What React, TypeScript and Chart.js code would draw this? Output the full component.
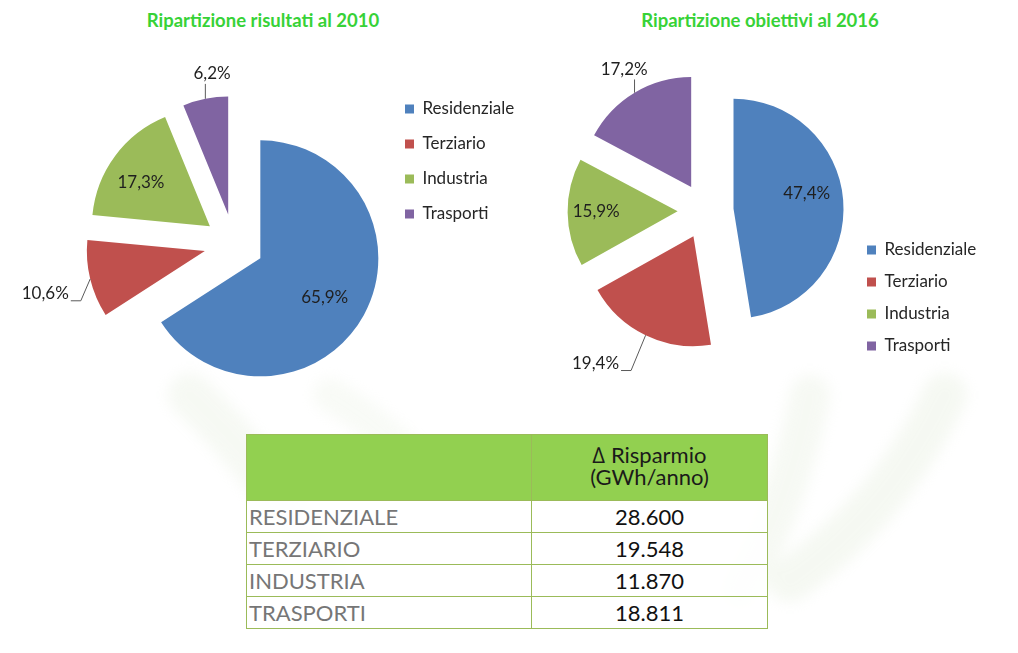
import React, { useEffect, useRef } from 'react';
import { Chart, registerables } from 'chart.js';

Chart.register(...registerables);

// ---------- data ----------
const categories = ['Residenziale', 'Terziario', 'Industria', 'Trasporti'];
const shares2010 = [65.9, 10.6, 17.3, 6.2];
const shares2016 = [47.4, 19.4, 15.9, 17.2];
const title2010 = 'Ripartizione risultati al 2010';
const title2016 = 'Ripartizione obiettivi al 2016';
const tableHeader = ['\u2206 Risparmio', '(GWh/anno)'];
const tableRowLabels = ['RESIDENZIALE', 'TERZIARIO', 'INDUSTRIA', 'TRASPORTI'];
const savingsGWh = [28600, 19548, 11870, 18811];

// ---------- styles / layout ----------
const sliceColors = ['#4F81BD', '#C0504D', '#9BBB59', '#8064A2'];
const labelShift2010 = [2.9, -1.3, -4.4, 4.6];
const labelDist2010 = [0.64, 1.4, 0.69, 1.2];
const labelShift2016 = [-7.4, 11.8, 0.5, 1.3];
const labelDist2016 = [0.68, 1.46, 0.74, 1.23];
const FONT = 'Lato, "Open Sans", sans-serif';

const fmtPct = (v: number) => v.toFixed(1).replace('.', ',') + '%';
const fmtInt = (n: number) => String(n).replace(/\B(?=(\d{3})+(?!\d))/g, '.');

const makePiePlugin = (explode: number, shifts: number[], dists: number[]) => ({
  id: 'explodedPieLabels',
  afterDatasetUpdate(chart: any) {
    const meta = chart.getDatasetMeta(0);
    meta.data.forEach((el: any) => {
      const mid = (el.startAngle + el.endAngle) / 2;
      el.x += Math.cos(mid) * explode;
      el.y += Math.sin(mid) * explode;
    });
  },
  afterDatasetsDraw(chart: any) {
    const ctx = chart.ctx;
    const meta = chart.getDatasetMeta(0);
    const data = chart.data.datasets[0].data as number[];
    ctx.save();
    ctx.font = '17px ' + FONT;
    ctx.textAlign = 'center';
    ctx.textBaseline = 'middle';
    meta.data.forEach((el: any, i: number) => {
      const mid = (el.startAngle + el.endAngle) / 2;
      const ang = mid + (shifts[i] * Math.PI) / 180;
      const R = el.outerRadius;
      const k = dists[i];
      const lx = el.x + Math.cos(ang) * R * k;
      const ly = el.y + Math.sin(ang) * R * k;
      const text = fmtPct(data[i]);
      ctx.fillStyle = '#1f1f1f';
      ctx.fillText(text, lx, ly);
      if (k > 1) {
        const ax = el.x + Math.cos(mid) * R;
        const ay = el.y + Math.sin(mid) * R;
        const tw = ctx.measureText(text).width;
        ctx.strokeStyle = '#5a5a5a';
        ctx.lineWidth = 1;
        ctx.beginPath();
        ctx.moveTo(ax, ay);
        if (Math.abs(lx - ax) > Math.abs(ly - ay)) {
          const side = lx < ax ? 1 : -1;
          const tx = lx + side * (tw / 2 + 2);
          const ty = ly + 7;
          ctx.lineTo(tx + side * 10, ty);
          ctx.lineTo(tx, ty);
        } else {
          ctx.lineTo(ax, ly + 10);
        }
        ctx.stroke();
      }
    });
    ctx.restore();
  },
});

type PieProps = {
  left: number;
  width: number;
  height: number;
  values: number[];
  radius: number;
  explode: number;
  padding: { left: number; right: number; top: number; bottom: number };
  legendLeft: number;
  legendGap: number;
  legendAlign: 'start' | 'end';
  shifts: number[];
  dists: number[];
};

function PieChart(p: PieProps) {
  const ref = useRef<HTMLCanvasElement | null>(null);
  useEffect(() => {
    if (!ref.current) return;
    const chart = new Chart(ref.current, {
      type: 'pie',
      data: {
        labels: categories,
        datasets: [
          {
            data: p.values,
            backgroundColor: sliceColors,
            borderWidth: 0,
            radius: p.radius,
            hoverOffset: 0,
            clip: false,
          } as any,
        ],
      },
      options: {
        responsive: false,
        animation: false,
        events: [],
        layout: { padding: { ...p.padding } },
        plugins: {
          legend: {
            position: 'right',
            align: p.legendAlign,
            labels: {
              boxWidth: 9,
              boxHeight: 9,
              padding: p.legendGap,
              color: '#262626',
              font: { family: FONT, size: 17 },
            },
          },
          tooltip: { enabled: false },
          title: { display: false },
        },
      } as any,
      plugins: [makePiePlugin(p.explode, p.shifts, p.dists)],
    });
    // place the legend (and thus the chart area) where the reference has it
    const lg: any = (chart as any).legend;
    if (lg) {
      const diff = lg.left - p.legendLeft;
      if (Math.abs(diff) > 0.01) {
        (chart.options as any).layout.padding = { ...p.padding, right: p.padding.right + diff };
        chart.update();
      }
    }
    return () => chart.destroy();
  }, []);
  return (
    <canvas
      ref={ref}
      width={p.width}
      height={p.height}
      style={{ position: 'absolute', left: p.left, top: 0, width: p.width, height: p.height }}
    />
  );
}

const titleStyle = (cx: number): React.CSSProperties => ({
  position: 'absolute',
  left: cx - 200,
  top: 9,
  width: 400,
  textAlign: 'center',
  fontFamily: FONT,
  fontWeight: 700,
  fontSize: 18.5,
  lineHeight: '22px',
  color: '#37d237',
});

const border = '1px solid #9BBB59';

export default function App() {
  return (
    <div
      style={{
        position: 'absolute',
        left: 0,
        top: 0,
        width: 1018,
        height: 653,
        overflow: 'hidden',
        background: '#ffffff',
      }}
    >
      <svg width={1018} height={653} style={{ position: 'absolute', left: 0, top: 0 }}>
        <defs>
          <filter id="soft" x="-20%" y="-20%" width="140%" height="140%">
            <feGaussianBlur stdDeviation="7" />
          </filter>
        </defs>
        <g filter="url(#soft)" fill="none" strokeLinecap="round" opacity={0.3}>
          <path d="M 190 395 Q 270 470 330 580" stroke="#e3ecda" strokeWidth={44} />
          <path d="M 330 395 Q 390 430 430 480" stroke="#eaf1e3" strokeWidth={34} />
          <path d="M 810 395 Q 790 500 740 590" stroke="#e3ecda" strokeWidth={40} />
          <path d="M 945 395 Q 890 510 790 580" stroke="#e0eAd6" strokeWidth={44} />
        </g>
      </svg>

      <div style={titleStyle(263)}>{title2010}</div>
      <div style={titleStyle(760)}>{title2016}</div>

      <PieChart
        left={0}
        width={520}
        height={410}
        values={shares2010}
        radius={118}
        explode={30}
        padding={{ left: 81, right: 5, top: 82.5, bottom: 4.5 }}
        legendLeft={387}
        legendGap={18}
        legendAlign="start"
        shifts={labelShift2010}
        dists={labelDist2010}
      />
      <PieChart
        left={510}
        width={508}
        height={410}
        values={shares2016}
        radius={110}
        explode={28}
        padding={{ left: 49.2, right: 5, top: 52.5, bottom: 40.5 }}
        legendLeft={342}
        legendGap={15}
        legendAlign="end"
        shifts={labelShift2016}
        dists={labelDist2016}
      />

      <table
        style={{
          position: 'absolute',
          left: 246,
          top: 434,
          width: 521,
          borderCollapse: 'collapse',
          fontFamily: FONT,
          fontSize: 22,
          tableLayout: 'fixed',
        }}
      >
        <colgroup>
          <col style={{ width: 285 }} />
          <col style={{ width: 236 }} />
        </colgroup>
        <thead>
          <tr style={{ height: 66, background: '#92D050' }}>
            <th style={{ border, padding: 0 }} />
            <th
              style={{
                border,
                padding: '0 0 4px 0',
                fontWeight: 400,
                color: '#1a1a1a',
                lineHeight: '22px',
                textAlign: 'center',
              }}
            >
              {tableHeader[0]}
              <br />
              {tableHeader[1]}
            </th>
          </tr>
        </thead>
        <tbody>
          {tableRowLabels.map((lab, i) => (
            <tr key={lab} style={{ height: 32, background: 'rgba(255,255,255,0.85)' }}>
              <td
                style={{
                  border,
                  padding: '0 0 0 2px',
                  color: '#767676',
                  lineHeight: '30px',
                  whiteSpace: 'nowrap',
                }}
              >
                {lab}
              </td>
              <td
                style={{
                  border,
                  padding: 0,
                  color: '#111111',
                  textAlign: 'center',
                  lineHeight: '30px',
                }}
              >
                {fmtInt(savingsGWh[i])}
              </td>
            </tr>
          ))}
        </tbody>
      </table>
    </div>
  );
}
